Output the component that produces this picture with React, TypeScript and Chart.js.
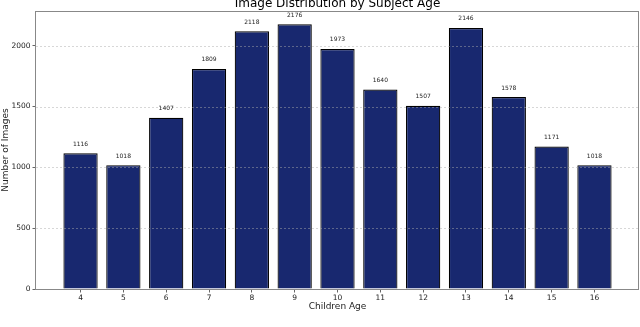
import React, { useEffect, useRef } from "react";
import { Chart, registerables } from "chart.js";

Chart.register(...registerables);

const ages = [4, 5, 6, 7, 8, 9, 10, 11, 12, 13, 14, 15, 16];
const counts = [1116, 1018, 1407, 1809, 2118, 2176, 1973, 1640, 1507, 2146, 1578, 1171, 1018];
const yTicks = [0, 500, 1000, 1500, 2000];
const titleText = "Image Distribution by Subject Age";
const xTitle = "Children Age";
const yTitle = "Number of Images";
const yMax = 2285;
const xMin = 2.96;
const xMax = 17.04;
const labelOffset = 50;

const FONT = "'DejaVu Sans', sans-serif";

const overlay = {
  id: "overlay",
  afterDatasetsDraw(chart: any) {
    const { ctx, chartArea } = chart;
    const yScale = chart.scales.y;
    ctx.save();
    // grid lines (on top of bars, like the reference)
    ctx.strokeStyle = "rgba(170,170,170,0.6)";
    ctx.lineWidth = 0.8;
    ctx.setLineDash([2, 2]);
    yTicks.forEach((t) => {
      if (t === 0) return;
      const y = Math.round(yScale.getPixelForValue(t)) + 0.5;
      ctx.beginPath();
      ctx.moveTo(chartArea.left, y);
      ctx.lineTo(chartArea.right, y);
      ctx.stroke();
    });
    ctx.setLineDash([]);
    // value labels
    const meta = chart.getDatasetMeta(0);
    ctx.fillStyle = "#222";
    ctx.font = `6px ${FONT}`;
    ctx.textAlign = "center";
    ctx.textBaseline = "bottom";
    meta.data.forEach((bar: any, i: number) => {
      const y = yScale.getPixelForValue(counts[i] + labelOffset);
      ctx.fillText(String(counts[i]), bar.x, y);
    });
    // frame
    ctx.strokeStyle = "#888";
    ctx.lineWidth = 1;
    ctx.strokeRect(
      Math.round(chartArea.left) - 0.5,
      Math.round(chartArea.top) + 0.5,
      Math.round(chartArea.right - chartArea.left),
      Math.round(chartArea.bottom - chartArea.top)
    );
    ctx.restore();
  },
};

export default function App() {
  const ref = useRef<HTMLCanvasElement | null>(null);

  useEffect(() => {
    if (!ref.current) return;
    const chart = new Chart(ref.current, {
      type: "bar",
      data: {
        datasets: [
          {
            data: ages.map((a, i) => ({ x: a, y: counts[i] })),
            backgroundColor: "#18286f",
            borderColor: "#000",
            borderWidth: 1.2,
            categoryPercentage: 1,
            barPercentage: 0.8,
          },
        ],
      },
      options: {
        animation: false,
        responsive: true,
        maintainAspectRatio: false,
        layout: { padding: { top: 0, right: 1, bottom: 14, left: 0 } },
        plugins: {
          legend: { display: false },
          tooltip: { enabled: false },
          title: {
            display: true,
            fullSize: false,
            text: titleText,
            color: "#000",
            font: { family: FONT, size: 12, weight: "normal", lineHeight: 0.62 },
            padding: { top: 0, bottom: 3.6 },
          },
        },
        scales: {
          x: {
            type: "linear",
            min: xMin,
            max: xMax,
            offset: false,
            afterBuildTicks: (s: any) => {
              s.ticks = ages.map((v) => ({ value: v }));
            },
            afterFit: (s: any) => {
              s.height = 24;
            },
            ticks: {
              autoSkip: false,
              maxRotation: 0,
              padding: 1,
              color: "#222",
              font: { family: FONT, size: 7.5 },
              callback: (v: any) => String(v),
            },
            grid: {
              offset: false,
              drawOnChartArea: false,
              drawTicks: true,
              tickLength: 3.5,
              tickColor: "#666",
            },
            border: { display: false },
            title: {
              display: true,
              text: xTitle,
              color: "#222",
              font: { family: FONT, size: 9 },
              padding: { top: 0, bottom: 1 },
            },
          },
          y: {
            type: "linear",
            min: 0,
            max: yMax,
            afterBuildTicks: (s: any) => {
              s.ticks = yTicks.map((v) => ({ value: v }));
            },
            afterFit: (s: any) => {
              s.width = 36;
            },
            ticks: {
              padding: 2,
              color: "#222",
              font: { family: FONT, size: 7.5 },
              callback: (v: any) => String(v),
            },
            grid: {
              drawOnChartArea: false,
              drawTicks: true,
              tickLength: 3.5,
              tickColor: "#666",
            },
            border: { display: false },
            title: {
              display: true,
              text: yTitle,
              color: "#222",
              font: { family: FONT, size: 9 },
              padding: { top: 0, bottom: 0 },
            },
          },
        },
      },
      plugins: [overlay],
    } as any);
    return () => chart.destroy();
  }, []);

  return (
    <div style={{ position: "fixed", left: 0, top: 0, width: 640, height: 327, background: "#fff" }}>
      <canvas ref={ref} />
    </div>
  );
}
